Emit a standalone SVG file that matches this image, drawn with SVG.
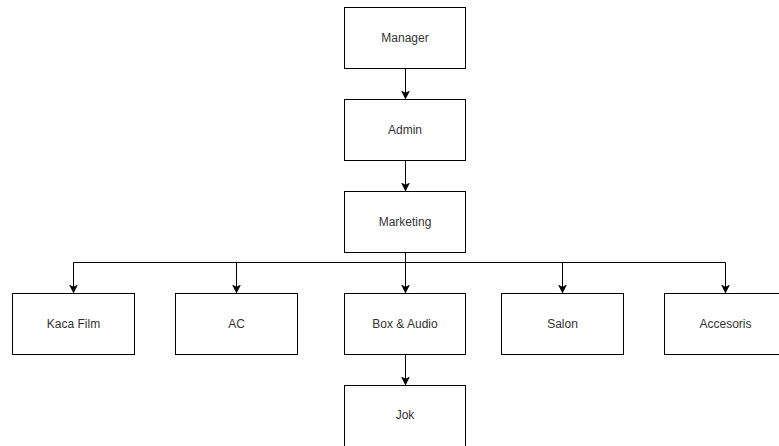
<svg xmlns="http://www.w3.org/2000/svg" width="779" height="446" viewBox="0 0 779 446">
<defs>
<marker id="arr" markerWidth="10" markerHeight="10" refX="8" refY="4.5" orient="auto" markerUnits="userSpaceOnUse">
<path d="M0,0 L9,4.5 L0,9 L2.2,4.5 Z" fill="#000"/>
</marker>
</defs>
<style>
.box{fill:#fff;stroke:#000;stroke-width:1}
.lbl{font-family:"Liberation Sans",Arial,sans-serif;font-size:12px;fill:#333;text-anchor:middle;dominant-baseline:central}
.edge{fill:none;stroke:#000;stroke-width:1;marker-end:url(#arr)}
</style>
<rect width="779" height="446" fill="#fff"/>
<g id="connectors">
<path class="edge" d="M405.5,68.5 V98.5"/>
<path class="edge" d="M405.5,160.5 V190.5"/>
<path class="edge" d="M405.5,252.5 V292.5"/>
<path class="edge" d="M405.5,262.5 H73.5 V292.5"/>
<path class="edge" d="M236.5,262.5 V292.5"/>
<path class="edge" d="M405.5,262.5 H725.5 V292.5"/>
<path class="edge" d="M562.5,262.5 V292.5"/>
<path class="edge" d="M405.5,354.5 V384.5"/>
</g>
<g id="manager"><rect class="box" x="344.5" y="7.5" width="121" height="61"/><text class="lbl" x="405" y="38">Manager</text></g>
<g id="admin"><rect class="box" x="344.5" y="99.5" width="121" height="61"/><text class="lbl" x="405" y="130">Admin</text></g>
<g id="marketing"><rect class="box" x="344.5" y="191.5" width="121" height="61"/><text class="lbl" x="405" y="222">Marketing</text></g>
<g id="kaca-film"><rect class="box" x="12.5" y="293.5" width="122" height="61"/><text class="lbl" x="73.5" y="324">Kaca Film</text></g>
<g id="ac"><rect class="box" x="175.5" y="293.5" width="122" height="61"/><text class="lbl" x="236.5" y="324">AC</text></g>
<g id="box-audio"><rect class="box" x="344.5" y="293.5" width="121" height="61"/><text class="lbl" x="405" y="324">Box &amp; Audio</text></g>
<g id="salon"><rect class="box" x="501.5" y="293.5" width="122" height="61"/><text class="lbl" x="562.5" y="324">Salon</text></g>
<g id="accesoris"><rect class="box" x="664.5" y="293.5" width="122" height="61"/><text class="lbl" x="725.5" y="324">Accesoris</text></g>
<g id="jok"><rect class="box" x="344.5" y="385.5" width="121" height="61"/><text class="lbl" x="405" y="415">Jok</text></g>
</svg>
